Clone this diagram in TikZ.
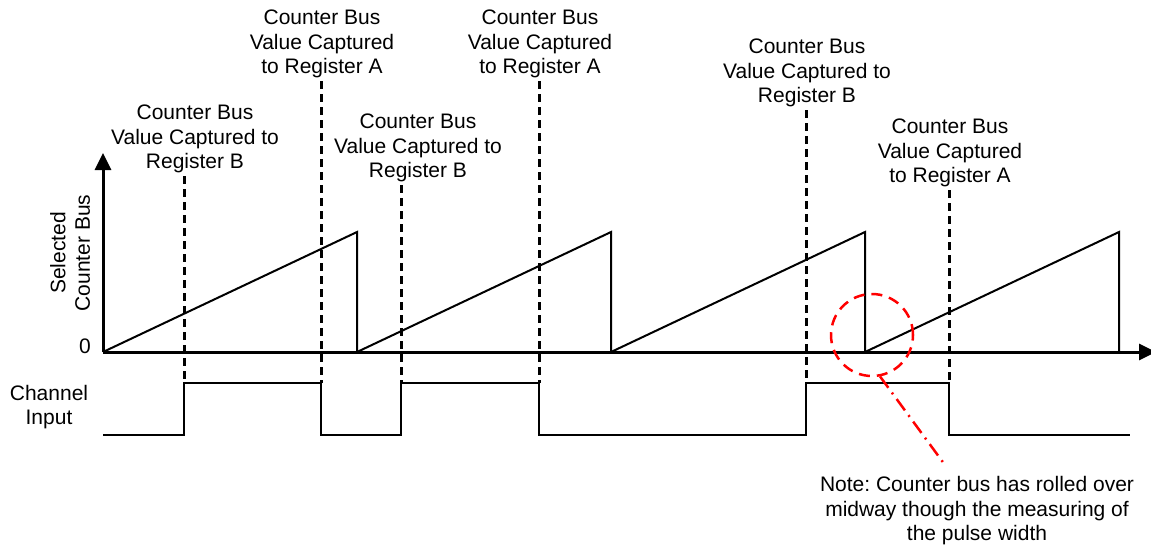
\documentclass[tikz,border=0pt]{standalone}
\usepackage{fontspec}
\setmainfont{Liberation Sans}
\usetikzlibrary{arrows.meta}
\frenchspacing

\begin{document}
\begin{tikzpicture}[x=1pt,y=-1pt,line width=2pt,>=Triangle,
  lbl/.style={align=center,font=\fontsize{21}{24.5}\selectfont,inner sep=2pt},
  capline/.style={line width=3pt,dash pattern=on 8pt off 5pt},
  rollnote/.style={red,line width=2.5pt}]
\useasboundingbox (0,0) rectangle (1151,550);
\def\yz{352}   % counter bus zero level
\def\yt{232}   % counter bus rollover value
\def\yh{383}   % channel input high
\def\yl{435}   % channel input low
\def\per{254}  % counter period

\coordinate (o) at (103,\yz);
% capture instants
\coordinate (t1) at (184,\yh);
\coordinate (t2) at (321,\yh);
\coordinate (t3) at (401,\yh);
\coordinate (t4) at (539,\yh);
\coordinate (t5) at (806,\yh);
\coordinate (t6) at (949,\yh);

% axes
\draw[line width=3pt,-{Triangle[length=17pt,width=16pt]}] (o) -- (103,153);
\draw[line width=3pt,-{Triangle[length=17pt,width=16pt]}] (o) -- (1156,\yz);

% counter bus
\foreach \i in {0,...,3}{
  \pgfmathsetmacro{\xa}{103+\per*\i}
  \pgfmathsetmacro{\xb}{\xa+\per}
  \draw (\xa,\yz) -- (\xb,\yt) -- (\xb,\yz);
}

% channel input
\draw (103,\yl) -- (184,\yl) -- (t1) -- (t2) -- (321,\yl) -- (401,\yl)
  -- (t3) -- (t4) -- (539,\yl) -- (806,\yl) -- (t5) -- (t6) -- (949,\yl)
  -- (1130,\yl);

% capture labels
\node[lbl] (capB1) at (195,139) {Counter Bus\\Value Captured to\\Register B};
\node[lbl] (capA1) at (322,44) {Counter Bus\\Value Captured\\to Register A};
\node[lbl] (capB2) at (418,148) {Counter Bus\\Value Captured to\\Register B};
\node[lbl] (capA2) at (540,44) {Counter Bus\\Value Captured\\to Register A};
\node[lbl] (capB3) at (807,73) {Counter Bus\\Value Captured to\\Register B};
\node[lbl] (capA3) at (950,153) {Counter Bus\\Value Captured\\to Register A};

\draw[capline] (capB1.south -| t1) -- (t1);
\draw[capline] (capA1.south -| t2) -- (t2);
\draw[capline] (capB2.south -| t3) -- (t3);
\draw[capline] (capA2.south -| t4) -- (t4);
\draw[capline] (capB3.south -| t5) -- (t5);
\draw[capline] (capA3.south -| t6) -- (t6);

% axis labels
\node[lbl,rotate=90] (ylab) at (70,253) {Selected\\Counter Bus};
\node[lbl] (zero) at (85,346) {0};
\node[lbl] (chan) at (49,407) {Channel\\Input};

% rollover note
\node[rollnote,draw,circle,inner sep=0pt,minimum size=82pt,
  dash pattern=on 11pt off 7pt] (roll) at (872,335) {};
\node[lbl] (note) at (977,511) {Note: Counter bus has rolled over\\midway though the measuring of\\the pulse width};
\coordinate (tip) at (945,465);
\draw[rollnote,dash pattern=on 14pt off 6pt on 2pt off 6pt] (roll.-79) -- (tip);
\end{tikzpicture}
\end{document}
